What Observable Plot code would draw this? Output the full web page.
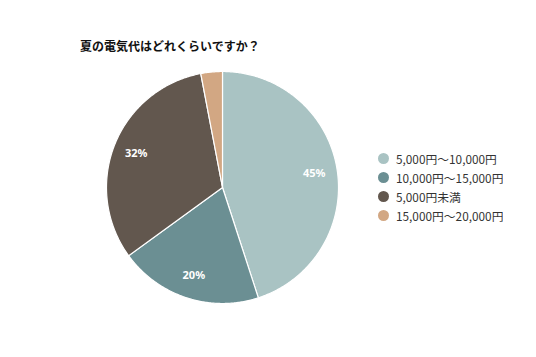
<!DOCTYPE html>
<html>
<head>
<meta charset="utf-8">
<script src="https://cdn.jsdelivr.net/npm/d3@7"></script>
<script src="https://cdn.jsdelivr.net/npm/@observablehq/plot@0.6"></script>
<style>
  html, body { margin: 0; padding: 0; background: #fff; }
  #wrap { position: relative; width: 536px; height: 357px; overflow: hidden; font-family: "Noto Sans CJK JP", "Noto Sans", sans-serif; }
  #title { position: absolute; left: 80px; top: 37px; font-size: 12px; font-weight: bold; color: #111; white-space: nowrap; }
  #chart { position: absolute; left: 0; top: 0; }
  #legend { position: absolute; left: 378px; top: 149px; }
  #legend .lg { font-family: "Noto Sans CJK JP", "Noto Sans", sans-serif; font-size: 11.8px; color: #333; display: block !important; columns: auto !important; }
  #legend .lg > div { margin: 0 !important; padding: 0 !important; box-sizing: border-box; height: 19px !important; line-height: 19px; display: flex !important; align-items: center; }
  #legend .lg svg { margin-right: 7px !important; flex: none; }
  #legend .lg svg rect { rx: 5.5px; ry: 5.5px; }
</style>
</head>
<body>
<div id="wrap">
  <div id="title">夏の電気代はどれくらいですか？</div>
  <div id="chart"></div>
  <div id="legend"></div>
</div>
<script>
const categories = ["5,000円～10,000円", "10,000円～15,000円", "5,000円未満", "15,000円～20,000円"];
const values = [45, 20, 32, 3];
const colors = ["#a9c3c3", "#6b8f93", "#62574e", "#d2a783"];

const rows = categories.map((c, i) => ({cat: c, value: values[i]}));
const arcs = d3.pie().sort(null).value(d => d.value)(rows);

// slice outlines on a unit circle (angle clockwise from the top)
const poly = [];
arcs.forEach(a => {
  poly.push({cat: a.data.cat, x: 0, y: 0});
  const n = Math.max(4, Math.ceil((a.endAngle - a.startAngle) / 0.01));
  for (let k = 0; k <= n; k++) {
    const t = a.startAngle + (a.endAngle - a.startAngle) * k / n;
    poly.push({cat: a.data.cat, x: Math.sin(t), y: Math.cos(t)});
  }
  poly.push({cat: a.data.cat, x: 0, y: 0});
});
const labels = arcs.filter(a => a.data.value >= 5).map(a => {
  const m = (a.startAngle + a.endAngle) / 2;
  return {x: 0.8 * Math.sin(m), y: 0.8 * Math.cos(m), text: a.data.value + "%"};
});

const color = {domain: categories, range: colors};

const plot = Plot.plot({
  width: 536,
  height: 357,
  margin: 0,
  x: {domain: [-1, 1], range: [106, 338], axis: null},
  y: {domain: [-1, 1], range: [303, 71], axis: null},
  color,
  marks: [
    Plot.line(poly, {x: "x", y: "y", z: "cat", fill: "cat", stroke: "#fff", strokeWidth: 1.2, curve: "linear"}),
    Plot.text(labels, {x: "x", y: "y", text: "text", fill: "#fff", fontWeight: "bold", fontSize: 11, fontFamily: "Noto Sans, sans-serif"})
  ]
});
document.getElementById("chart").appendChild(plot);

const leg = Plot.legend({color, legend: "swatches", columns: 1, swatchSize: 11, className: "lg"});
leg.classList.add("lg");
document.getElementById("legend").appendChild(leg);
</script>
</body>
</html>
